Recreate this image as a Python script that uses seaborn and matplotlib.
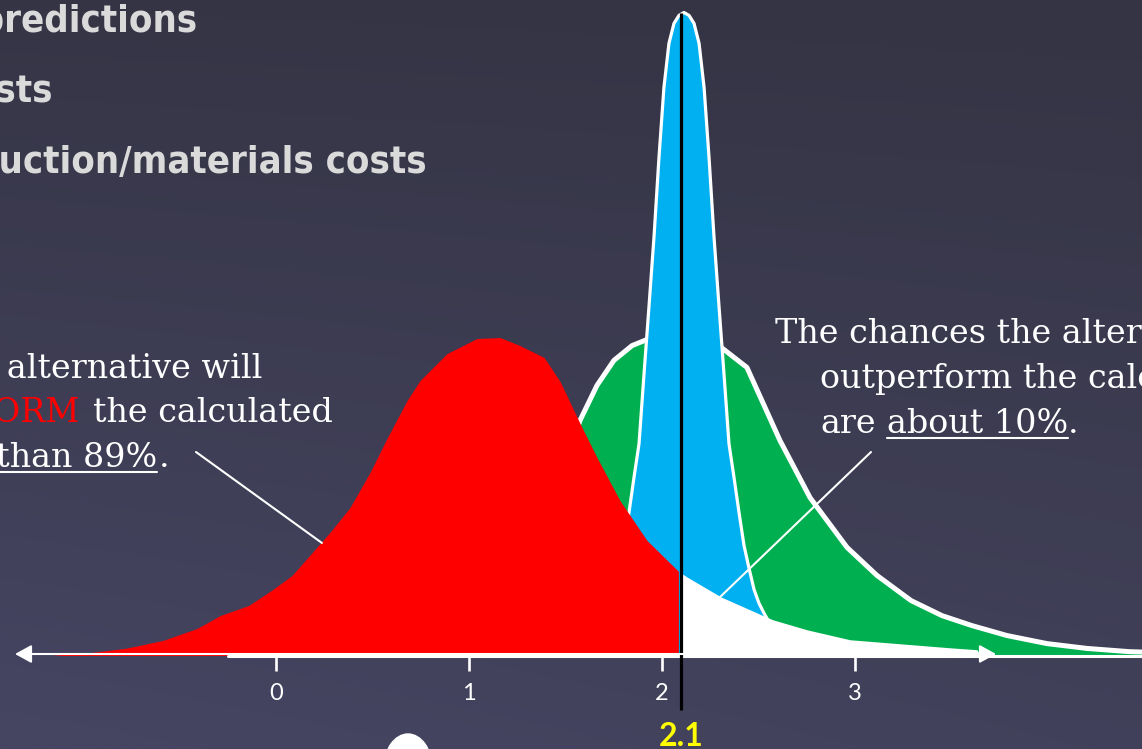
import numpy as np
import matplotlib
matplotlib.use("Agg")
import matplotlib.pyplot as plt
import seaborn as sns
from matplotlib import font_manager
from matplotlib.transforms import Affine2D
from matplotlib.colors import LinearSegmentedColormap
from matplotlib.patches import FancyArrowPatch, ArrowStyle, Ellipse, Arc
from matplotlib.lines import Line2D

# ---------------------------------------------------------------- data
tick_values = [0, 1, 2, 3]
tick_labels = ["0", "1", "2", "3"]
threshold = 2.1
threshold_label = "2.1"

# calculated-value distribution (red), cut at the threshold
red_x = [-1.161, -1.109, -0.964, -0.782, -0.585, -0.409, -0.290, -0.140, -0.010,
         0.083, 0.280, 0.383, 0.487, 0.575, 0.679, 0.746, 0.886, 1.041, 1.161,
         1.264, 1.389, 1.472, 1.575, 1.663, 1.782, 1.922, 2.085]
red_y = [0.000, 0.003, 0.009, 0.022, 0.047, 0.084, 0.124, 0.156, 0.208,
         0.249, 0.383, 0.460, 0.569, 0.675, 0.793, 0.855, 0.939, 0.986, 0.989,
         0.964, 0.927, 0.852, 0.722, 0.616, 0.482, 0.358, 0.262]

# narrow alternative distribution (blue)
blue_x = [1.337, 1.492, 1.596, 1.648, 1.699, 1.725, 1.751, 1.777, 1.803, 1.829,
          1.855, 1.881, 1.907, 1.933, 1.959, 1.984, 2.010, 2.036, 2.062, 2.088,
          2.114,
          2.140, 2.166, 2.192, 2.218, 2.244, 2.269, 2.295, 2.321, 2.347, 2.373,
          2.399, 2.425, 2.451, 2.477, 2.503, 2.529, 2.580, 2.632, 2.736, 2.891]
blue_y = [0.000, 0.012, 0.044, 0.078, 0.131, 0.162, 0.205, 0.271, 0.342, 0.445,
          0.554, 0.659, 0.877, 1.089, 1.306, 1.546, 1.767, 1.904, 1.966, 1.991,
          2.000,
          1.991, 1.966, 1.904, 1.767, 1.546, 1.306, 1.089, 0.877, 0.659, 0.554,
          0.445, 0.342, 0.271, 0.205, 0.162, 0.131, 0.078, 0.044, 0.012, 0.000]

# wide alternative distribution (green)
green_x = [0.472, 0.731, 0.990, 1.197, 1.404, 1.575, 1.663, 1.751, 1.845, 1.948,
           2.052, 2.130, 2.207, 2.301, 2.440, 2.611, 2.767, 2.959, 3.114, 3.290,
           3.451, 3.606, 3.788, 3.995, 4.202, 4.420, 4.720]
green_y = [0.003, 0.031, 0.093, 0.202, 0.420, 0.731, 0.840, 0.918, 0.964, 0.989,
           0.998, 0.998, 0.989, 0.961, 0.896, 0.669, 0.491, 0.336, 0.249, 0.171,
           0.124, 0.093, 0.062, 0.037, 0.022, 0.012, 0.006]

# probability mass beyond the threshold (white)
tail_x = [2.100, 2.130, 2.306, 2.539, 2.575, 2.751, 2.974, 3.492, 3.632, 3.650]
tail_y = [0.256, 0.244, 0.182, 0.120, 0.111, 0.080, 0.049, 0.024, 0.018, 0.000]

# ---------------------------------------------------------------- styling
RED, BLUE, GREEN = "#FF0000", "#00B0F0", "#00B050"
TEXT_GREY = "#DADADA"

sns.set_theme(style="white")
plt.rcParams["font.family"] = ["DejaVu Sans"]


def narrow_heading_font():
    """Pick a narrow bold sans for the slide heading."""
    options = [("Liberation Sans Narrow", "normal"), ("Noto Sans", "condensed"),
               ("DejaVu Sans", "condensed"), ("Open Sans", "condensed")]
    for fam, stretch in options:
        fp = font_manager.FontProperties(family=fam, stretch=stretch, weight="bold")
        try:
            path = font_manager.findfont(fp, fallback_to_default=False)
        except Exception:
            continue
        name = path.lower()
        if "narrow" in name or "condensed" in name:
            return fam, stretch
    return "Roboto", "normal"


HEAD_FAMILY, HEAD_STRETCH = narrow_heading_font()

W, H = 1142, 749
fig = plt.figure(figsize=(W / 100, H / 100), dpi=100)
# pixel coordinates measured from the top-left corner, for layout only
px = Affine2D().scale(1 / W, -1 / H).translate(0, 1) + fig.transFigure

# slide background: dark slate, a touch lighter toward the lower left
bg = fig.add_axes([0, 0, 1, 1], zorder=-10)
gy = np.linspace(0, 1, 300)[:, None]
gx = np.linspace(0, 1, 400)[None, :]
field = 0.75 * gy + 0.25 * gy * (1 - gx) + 0.05 * (1 - gx)
cmap = LinearSegmentedColormap.from_list("slide", ["#353444", "#454562"])
bg.imshow(field, aspect="auto", cmap=cmap, extent=[0, 1, 0, 1], vmin=0, vmax=1)
bg.axis("off")

# main plotting axes: bottom spine is the number line
base_px = 655.5
x_px_per_unit, y_px_per_unit, x0_px = 193.0, 321.5, 276.0
ax = fig.add_axes([0, (H - base_px) / H, 1, base_px / H])
ax.patch.set_alpha(0)
ax.set_xlim(-x0_px / x_px_per_unit, (W - x0_px) / x_px_per_unit)
ax.set_ylim(0, base_px / y_px_per_unit)

# green distribution
ax.fill_between(green_x, 0, green_y, color=GREEN, lw=0, zorder=2)
sns.lineplot(x=green_x, y=green_y, ax=ax, color="white", lw=3.6, zorder=2.2,
             estimator=None, sort=False)
# blue distribution
ax.fill_between(blue_x, 0, blue_y, color=BLUE, lw=0, zorder=3)
sns.lineplot(x=blue_x, y=blue_y, ax=ax, color="white", lw=2.3, zorder=3.2,
             estimator=None, sort=False)
# tail beyond the threshold
ax.fill_between(tail_x, 0, tail_y, color="white", lw=0, zorder=4)
# red distribution
ax.fill_between(red_x, 0, red_y, color=RED, lw=0, zorder=5)

# number line with ticks
for side in ["top", "left", "right"]:
    ax.spines[side].set_visible(False)
sp = ax.spines["bottom"]
sp.set_color("white")
sp.set_linewidth(2.2)
sp.set_zorder(6)
sp.set_capstyle("round")
sp.set_bounds(-0.249, (W - x0_px) / x_px_per_unit)
ax.set_xticks(tick_values, tick_labels)
ax.set_yticks([])
ax.tick_params(axis="x", direction="out", length=11, width=1.9, color="white",
               labelcolor="white", pad=9, labelsize=17, bottom=True)
for lbl in ax.get_xticklabels():
    lbl.set_fontfamily(["Lato", "DejaVu Sans"])
    lbl.set_color("white")

# double-headed arrow along the number line
arrow = FancyArrowPatch((15, 654), (996, 654), transform=px,
                        arrowstyle=ArrowStyle("<|-|>", head_length=1.0, head_width=0.55),
                        mutation_scale=10, color="white", lw=1.5,
                        shrinkA=0, shrinkB=0, zorder=6)
fig.add_artist(arrow)

# threshold marker
y_low = (base_px - 710) / y_px_per_unit
ax.plot([threshold, threshold], [y_low, max(blue_y)], color="black", lw=2.3,
        zorder=7, clip_on=False, solid_capstyle="butt")
ax.text(threshold, (base_px - 736) / y_px_per_unit, threshold_label, ha="center",
        va="center", color="#FFFF00", fontsize=23, fontweight="bold",
        family=["Lato", "DejaVu Sans"], zorder=8, clip_on=False)

# callout leaders
ax.annotate("", xy=(0.238, 0.350), xycoords="data", xytext=(196, 452), textcoords=px,
            arrowprops=dict(arrowstyle="-", color="white", lw=1.5, shrinkA=0, shrinkB=0),
            zorder=6)
ax.annotate("", xy=(2.301, 0.182), xycoords="data", xytext=(871, 452), textcoords=px,
            arrowprops=dict(arrowstyle="-", color="white", lw=1.5, shrinkA=0, shrinkB=0),
            zorder=6)

# slide heading lines (they run off the left edge of the slide crop)
r = fig.canvas.get_renderer()
probe = fig.text(0, 0, "uction/materials costs", fontsize=36, fontweight="bold",
                 family=[HEAD_FAMILY, "DejaVu Sans"], fontstretch=HEAD_STRETCH)
probe_w = probe.get_window_extent(renderer=r).width
probe.remove()
head_size = min(40.0, 36 * 427.0 / probe_w)
title_kw = dict(transform=px, color=TEXT_GREY, fontsize=head_size, fontweight="bold",
                family=[HEAD_FAMILY, "DejaVu Sans"], fontstretch=HEAD_STRETCH,
                va="baseline", ha="right")
fig.text(197, 32, "Revenue predictions", **title_kw)
fig.text(53, 102, "Operating costs", **title_kw)
fig.text(427, 173, "Construction/materials costs", **title_kw)

# callout texts
serif = dict(transform=px, fontsize=24, family=["DejaVu Serif"], va="baseline")
underlined = []
fig.text(262, 378, "The chances the alternative will", color="white", ha="right", **serif)
fig.text(80, 422, "UNDERPERFORM", color=RED, ha="right", **serif)
fig.text(93, 422, "the calculated", color="white", ha="left", **serif)
more = fig.text(157, 467, "are more than 89%", color="white", ha="right", **serif)
fig.text(159, 467, ".", color="white", ha="left", **serif)

fig.text(775, 343, "The chances the alternative will", color="white", ha="left", **serif)
fig.text(820, 388, "outperform the calculated", color="white", ha="left", **serif)
fig.text(820, 433, "are", color="white", ha="left", **serif)
about = fig.text(887, 433, "about 10%", color="white", ha="left", **serif)
fig.text(1068, 433, ".", color="white", ha="left", **serif)

fig.canvas.draw()
for t, uy, clip_left in [(more, 472, True), (about, 438, False)]:
    bb = t.get_window_extent(renderer=r)
    x0 = 0 if clip_left else bb.x0
    fig.add_artist(Line2D([x0, bb.x1], [uy, uy], transform=px, color="white", lw=1.5))

# partial logo at the bottom edge
fig.add_artist(Ellipse((408, 768), 48, 68, transform=px, color="white", zorder=5))
fig.add_artist(Arc((418, 772), 36, 56, theta1=95, theta2=185, transform=px,
                   color="#44445e", lw=2.5, zorder=6))

fig.savefig("out.png", dpi=100)
